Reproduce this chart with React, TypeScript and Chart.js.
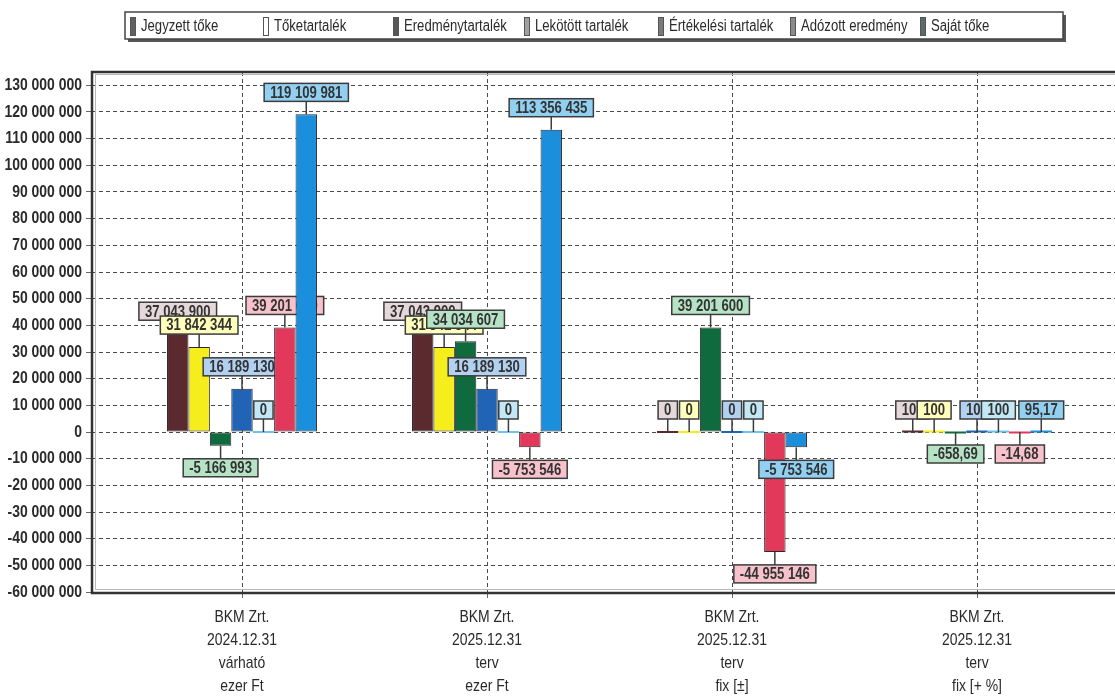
import React, { useEffect, useRef } from 'react';
import { Chart, registerables } from 'chart.js';

Chart.register(...registerables);

// ---------- DATA ----------
const categoryLines: string[][] = [
  ['BKM Zrt.', '2024.12.31', 'várható', 'ezer Ft'],
  ['BKM Zrt.', '2025.12.31', 'terv', 'ezer Ft'],
  ['BKM Zrt.', '2025.12.31', 'terv', 'fix [±]'],
  ['BKM Zrt.', '2025.12.31', 'terv', 'fix [+ %]'],
];

const seriesNames = [
  'Jegyzett tőke',
  'Tőketartalék',
  'Eredménytartalék',
  'Lekötött tartalék',
  'Értékelési tartalék',
  'Adózott eredmény',
  'Saját tőke',
];

const jegyzettToke = [37043900, 37043900, 0, 100];
const toketartalek = [31842344, 31842344, 0, 100];
const eredmenytartalek = [-5166993, 34034607, 39201600, -658.69];
const lekotottTartalek = [16189130, 16189130, 0, 100];
const ertekelesiTartalek = [0, 0, 0, 100];
const adozottEredmeny = [39201600, -5753546, -44955146, -14.68];
const sajatToke = [119109981, 113356435, -5753546, 95.17];

const seriesValues = [
  jegyzettToke,
  toketartalek,
  eredmenytartalek,
  lekotottTartalek,
  ertekelesiTartalek,
  adozottEredmeny,
  sajatToke,
];

const yMin = -60000000;
const yMax = 135000000;
const yTopTick = 130000000;
const yStep = 10000000;

// ---------- STYLE ----------
const barColors = ['#5b2a2f', '#f6ee1c', '#0f6b3d', '#2164b6', '#6cc4ee', '#e2395a', '#1b8fdc'];
const labelBg = ['#e6d8da', '#ffffbc', '#b6e3c6', '#b2d0f0', '#c2e8f6', '#f8c2cc', '#92d0f2'];
const legendMarker = ['#606060', '#ffffff', '#585858', '#a0a0a0', '#7a7a7a', '#8a8a8a', '#5c6c6c'];
const FONT = "'Liberation Sans', Arial, sans-serif";
const NARROW = 0.82;

function groupThousands(v: number): string {
  return Math.round(v).toString().replace(/\B(?=(\d{3})+(?!\d))/g, ' ');
}
function fmtLabel(v: number): string {
  if (Number.isInteger(v)) return groupThousands(v);
  return v.toFixed(2).replace('.', ',');
}

function narrowText(
  ctx: CanvasRenderingContext2D,
  text: string,
  x: number,
  y: number,
  align: CanvasTextAlign,
  size: number,
  color: string,
  weight = 'normal'
) {
  ctx.save();
  ctx.font = `${weight} ${size}px ${FONT}`;
  ctx.fillStyle = color;
  ctx.textAlign = align;
  ctx.textBaseline = 'middle';
  ctx.translate(x, y);
  ctx.scale(NARROW, 1);
  ctx.fillText(text, 0, 0);
  ctx.restore();
}
function narrowWidth(ctx: CanvasRenderingContext2D, text: string, size: number, weight = 'normal') {
  ctx.save();
  ctx.font = `${weight} ${size}px ${FONT}`;
  const w = ctx.measureText(text).width * NARROW;
  ctx.restore();
  return w;
}

const CANVAS_W = 1135;
const CANVAS_H = 697;
const AREA_LEFT = 92;
const AREA_TOP = 72;
const AREA_BOTTOM = 592;
const CAT_PX = 245;
const FIRST_CENTER_OFFSET = 150;

const drawPlugin = {
  id: 'customDraw',
  beforeDatasetsDraw(chart: any) {
    const ctx: CanvasRenderingContext2D = chart.ctx;
    const a = chart.chartArea;
    ctx.save();
    ctx.beginPath();
    ctx.rect(a.left, a.top, a.right - a.left, a.bottom - a.top);
    ctx.clip();
    chart.data.datasets.forEach((_ds: any, di: number) => {
      const meta = chart.getDatasetMeta(di);
      if (!meta.visible) return;
      meta.controller.draw();
      meta.data.forEach((el: any, i: number) => {
        const v = seriesValues[di][i];
        const x = el.x;
        const y = el.y;
        // very small bars: thin coloured line at the base
        if (Math.abs(el.base - el.y) < 1) {
          ctx.fillStyle = barColors[di];
          ctx.fillRect(x - el.width / 2, el.base - 1, el.width, 2);
        }
        const up = v >= 0;
        const h = 18;
        const cy = up ? y - 22 : y + 22;
        const text = fmtLabel(v);
        const w = narrowWidth(ctx, text, 16, 'bold') + 12;
        ctx.strokeStyle = '#3c3c3c';
        ctx.lineWidth = 1.5;
        ctx.beginPath();
        ctx.moveTo(x, y);
        ctx.lineTo(x, up ? cy + h / 2 : cy - h / 2);
        ctx.stroke();
        ctx.fillStyle = labelBg[di];
        ctx.fillRect(x - w / 2, cy - h / 2, w, h);
        ctx.strokeRect(x - w / 2, cy - h / 2, w, h);
        narrowText(ctx, text, x, cy + 1, 'center', 16, '#333333', 'bold');
      });
    });
    ctx.restore();
    return false;
  },
  afterDraw(chart: any) {
    const ctx: CanvasRenderingContext2D = chart.ctx;
    const a = chart.chartArea;
    const xs = chart.scales.x;
    const ys = chart.scales.y;
    ctx.save();
    // plot border
    ctx.strokeStyle = '#b8b8b8';
    ctx.lineWidth = 1;
    ctx.strokeRect(a.left + 3.5, a.top + 2.5, a.right - a.left, a.bottom - a.top - 5);
    ctx.strokeStyle = '#333333';
    ctx.lineWidth = 2.5;
    ctx.strokeRect(a.left, a.top, a.right - a.left, a.bottom - a.top + 1);

    // y tick labels
    ys.ticks.forEach((t: any) => {
      const py = ys.getPixelForValue(t.value);
      narrowText(ctx, groupThousands(t.value), a.left - 10, py, 'right', 17, '#2a2a2a', 'bold');
    });
    // x tick labels
    categoryLines.forEach((lines, i) => {
      const px = xs.getPixelForValue(i);
      lines.forEach((line, k) => {
        narrowText(ctx, line, px, 617 + k * 23, 'center', 17, '#2a2a2a');
      });
    });

    // legend box
    const bx = 125, by = 12, bw = 938, bh = 27;
    ctx.fillStyle = '#555555';
    ctx.fillRect(bx + 3, by + 3, bw, bh);
    ctx.fillStyle = '#ffffff';
    ctx.fillRect(bx, by, bw, bh);
    ctx.strokeStyle = '#444444';
    ctx.lineWidth = 1.5;
    ctx.strokeRect(bx, by, bw, bh);
    const markerX = [130, 263, 393, 524, 658, 790, 920];
    seriesNames.forEach((name, i) => {
      ctx.fillStyle = legendMarker[i];
      ctx.fillRect(markerX[i], 17, 6, 19);
      ctx.strokeStyle = '#555555';
      ctx.lineWidth = 1;
      ctx.strokeRect(markerX[i] + 0.5, 17.5, 5, 18);
      narrowText(ctx, name, markerX[i] + 11, 27, 'left', 16, '#2a2a2a');
    });
    ctx.restore();
  },
};

export default function App() {
  const ref = useRef<HTMLCanvasElement>(null);
  useEffect(() => {
    document.body.style.margin = '0';
    const canvas = ref.current;
    if (!canvas) return;
    const xMin = -FIRST_CENTER_OFFSET / CAT_PX;
    const xMax = xMin + (CANVAS_W - AREA_LEFT) / CAT_PX;
    const chart = new Chart(canvas, {
      type: 'bar',
      data: {
        datasets: seriesNames.map((name, di) => ({
          label: name,
          data: seriesValues[di].map((v, i) => ({ x: i, y: v })),
          backgroundColor: barColors[di],
          borderColor: '#2a2a2a',
          borderWidth: 1,
          borderSkipped: false,
          categoryPercentage: 0.612,
          barPercentage: 1,
        })),
      },
      options: {
        responsive: false,
        animation: false,
        devicePixelRatio: 1,
        layout: { padding: { top: AREA_TOP, left: 0, right: 0, bottom: 0 } },
        plugins: {
          legend: { display: false },
          tooltip: { enabled: false },
        },
        scales: {
          x: {
            type: 'linear',
            offset: false,
            min: xMin,
            max: xMax,
            grid: {
              offset: false,
              color: '#4a4a4a',
              lineWidth: 1,
              drawTicks: true,
              tickLength: 6,
              tickColor: '#666666',
            },
            border: { display: false, dash: [4, 3] },
            afterBuildTicks: (scale: any) => {
              scale.ticks = categoryLines.map((_c, i) => ({ value: i }));
            },
            afterFit: (scale: any) => {
              scale.height = CANVAS_H - AREA_BOTTOM;
            },
            ticks: {
              display: false,
              autoSkip: false,
              maxRotation: 0,
            },
          },
          y: {
            min: yMin,
            max: yMax,
            grid: {
              color: '#4a4a4a',
              lineWidth: 1,
              drawTicks: true,
              tickLength: 6,
              tickColor: '#666666',
            },
            border: { display: false, dash: [4, 3] },
            afterBuildTicks: (scale: any) => {
              const t: any[] = [];
              for (let v = yMin; v <= yTopTick; v += yStep) t.push({ value: v });
              scale.ticks = t;
            },
            afterFit: (scale: any) => {
              scale.width = AREA_LEFT;
            },
            ticks: {
              display: false,
            },
          },
        },
      },
      plugins: [drawPlugin],
    } as any);
    return () => chart.destroy();
  }, []);
  return (
    <div style={{ width: 1115, height: 697, overflow: 'hidden', background: '#ffffff' }}>
      <canvas ref={ref} width={CANVAS_W} height={CANVAS_H} style={{ display: 'block' }} />
    </div>
  );
}
